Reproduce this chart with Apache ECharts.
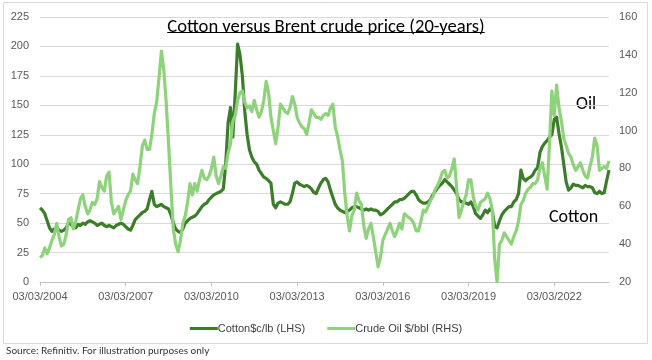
<!DOCTYPE html>
<html>
<head>
<meta charset="utf-8">
<script src="https://cdn.jsdelivr.net/npm/echarts@6/dist/echarts.min.js"></script>
<style>
html,body{margin:0;padding:0;background:#fff;}
#chart{width:652px;height:360px;}
</style>
</head>
<body>
<div id="chart"></div>
<script>
// Monthly points from 03/03/2004 to 03/02/2024
const startYear = 2004, startMonth = 3;
const xTickLabels = ['03/03/2004','03/03/2007','03/03/2010','03/03/2013','03/03/2016','03/03/2019','03/03/2022'];
const leftTicks = [0, 225, 25];
const rightTicks = [20, 160, 20];

const cotton = [
  63, 61, 58, 52, 46, 43, 45, 46, 44, 43,
  44, 46, 50, 49, 47, 46, 49, 48, 50, 49, 51, 52,
  51, 50, 48, 49, 50, 48, 47, 48, 47, 46, 48, 49,
  50, 49, 47, 45, 44, 48, 53, 55, 57, 59, 60, 62,
  70, 77, 66, 64, 65, 66, 64, 63, 62, 57, 50, 45,
  43, 42, 45, 50, 52, 54, 55, 56, 58, 61, 64, 66,
  67, 70, 72, 74, 75, 76, 77, 79, 100, 135, 148, 123,
  160, 202, 193, 175, 145, 125, 112, 106, 102, 100, 95, 92,
  89, 88, 86, 84, 66, 63, 67, 68, 67, 66, 66, 68,
  75, 84, 85, 83, 82, 81, 82, 81, 79, 76, 75, 80,
  84, 87, 88, 85, 78, 72, 66, 63, 61, 60, 59, 60,
  61, 63, 64, 64, 63, 62, 61, 62, 61, 62, 61, 61,
  60, 57, 58, 60, 62, 64, 66, 68, 68, 70, 70, 71,
  73, 75, 77, 77, 74, 70, 68, 67, 67, 68, 70, 74,
  77, 80, 82, 84, 87, 85, 83, 81, 78, 75, 70, 68,
  68, 67, 66, 68, 64, 58, 56, 54, 57, 61, 59, 62,
  60, 47, 46, 52, 57, 60, 62, 64, 64, 68, 70, 75,
  95, 88, 86, 88, 89, 91, 95, 97, 110, 115, 118, 120,
  123, 125, 138, 140, 126, 115, 100, 85, 78, 80, 83, 82,
  82, 81, 80, 82, 81, 81, 80, 76, 75, 77, 75, 76,
  86, 95
];

const crude = [
  33, 34, 38, 35, 38, 42, 45, 51, 44, 39,
  40, 45, 53, 54, 48, 52, 58, 64, 66, 60, 56, 58,
  62, 61, 64, 73, 70, 68, 76, 78, 62, 56, 58, 60,
  53, 58, 63, 66, 68, 77, 74, 72, 81, 92, 95, 90,
  90, 98, 109, 115, 128, 142, 132, 115, 93, 70, 48, 40,
  36, 42, 51, 55, 62, 72, 66, 72, 68, 74, 79, 75,
  74, 76, 80, 86, 76, 72, 76, 81, 80, 88, 93, 105,
  108, 116, 120, 121, 115, 112, 113, 110, 116, 111, 107, 110,
  116, 126, 120, 107, 100, 93, 102, 114, 112, 110, 109, 112,
  118, 114, 107, 104, 102, 101, 98, 104, 111, 109, 107, 107,
  106, 108, 109, 108, 112, 114, 102, 97, 90, 84, 67, 55,
  47, 55, 58, 67, 63, 61, 50, 43, 48, 51, 44, 36,
  28, 33, 42, 45, 48, 51, 47, 44, 47, 51, 48, 56,
  55, 54, 53, 51, 47, 47, 52, 58, 57, 60, 63, 65,
  69, 71, 74, 78, 79, 75, 76, 80, 85, 70, 54, 58,
  62, 66, 74, 74, 65, 60, 58, 62, 63, 64, 67, 64,
  58, 32, 20, 40, 42, 46, 44, 42, 40, 44, 47, 52,
  61, 63, 67, 69, 70, 72, 72, 74, 80, 83, 76, 69,
  93, 121, 108, 124, 112, 105, 96, 92, 88, 86, 82, 79,
  81, 83, 79, 76, 75, 81, 86, 96, 92, 79, 80, 81,
  80, 84
];

const categories = cotton.map((_, i) => {
  const m0 = startMonth - 1 + i;
  const y = startYear + Math.floor(m0 / 12);
  const m = (m0 % 12) + 1;
  return '03/' + String(m).padStart(2, '0') + '/' + y;
});

const titleText = 'Cotton versus Brent crude price (20-years)';
const titleFont = '18.6px Carlito, Lato, sans-serif';
const noteFont = '18px Carlito, Lato, sans-serif';
const mctx = document.createElement('canvas').getContext('2d');
mctx.font = titleFont;
const tw = mctx.measureText(titleText).width;

const chart = echarts.init(document.getElementById('chart'), null, {renderer: 'canvas'});
const axisFont = {fontFamily: 'Liberation Sans, Arial, sans-serif', fontSize: 11, color: '#595959'};

chart.setOption({
  animation: false,
  backgroundColor: '#fff',
  grid: {left: 40, right: 43, top: 17, bottom: 78, containLabel: false},
  title: {
    text: titleText, left: 'center', top: 13,
    textStyle: {fontFamily: 'Carlito, Lato, sans-serif', fontSize: 18.6, fontWeight: 'normal', color: '#000'}
  },
  legend: {
    left: 'center', top: 318,
    icon: 'rect', itemWidth: 28, itemHeight: 3, itemGap: 22,
    textStyle: {fontFamily: 'Liberation Sans, Arial, sans-serif', fontSize: 11, color: '#404040', padding: [0,0,0,-5]},
    data: ['Cotton$c/lb (LHS)', 'Crude Oil $/bbl (RHS)']
  },
  xAxis: {
    type: 'category', data: categories, boundaryGap: false,
    axisLine: {lineStyle: {color: '#bfbfbf'}},
    axisTick: {interval: 35, length: 4, lineStyle: {color: '#bfbfbf'}},
    axisLabel: Object.assign({interval: 35, margin: 9,
      formatter: (v, idx) => xTickLabels[Math.round(idx / 36)] || ''}, axisFont),
    splitLine: {show: false}
  },
  yAxis: [
    {type: 'value', min: leftTicks[0], max: leftTicks[1], interval: leftTicks[2],
     axisLine: {show: false}, axisTick: {show: false},
     axisLabel: Object.assign({margin: 11}, axisFont),
     splitLine: {lineStyle: {color: '#d9d9d9', width: 1}}},
    {type: 'value', min: rightTicks[0], max: rightTicks[1], interval: rightTicks[2],
     axisLine: {show: false}, axisTick: {show: false},
     axisLabel: Object.assign({margin: 10}, axisFont),
     splitLine: {show: false}}
  ],
  series: [
    {name: 'Cotton$c/lb (LHS)', type: 'line', yAxisIndex: 0, data: cotton, showSymbol: false, symbol: 'none',
     lineStyle: {color: '#3c7d2a', width: 3.2, join: 'round'}, itemStyle: {color: '#3c7d2a'}},
    {name: 'Crude Oil $/bbl (RHS)', type: 'line', yAxisIndex: 1, data: crude, showSymbol: false, symbol: 'none',
     lineStyle: {color: '#8fd27c', width: 3.2, join: 'round'}, itemStyle: {color: '#8fd27c'}}
  ],
  graphic: [
    {type: 'rect', shape: {x: 3.5, y: 2.5, width: 644, height: 341}, style: {fill: 'none', stroke: '#d9d9d9', lineWidth: 1}, silent: true, z: -1},
    {type: 'line', shape: {x1: 326 - tw / 2, y1: 32.5, x2: 326 + tw / 2, y2: 32.5}, style: {stroke: '#000', lineWidth: 1}},
    {type: 'text', left: 576, top: 95, style: {text: 'Oil', font: noteFont, fill: '#000'}},
    {type: 'text', left: 549, top: 208, style: {text: 'Cotton', font: noteFont, fill: '#000'}},
    {type: 'text', left: 6, top: 346, style: {text: 'Source: Refinitiv. For illustration purposes only', font: '10px Lato, sans-serif', fill: '#333'}}
  ]
});
</script>
</body>
</html>
